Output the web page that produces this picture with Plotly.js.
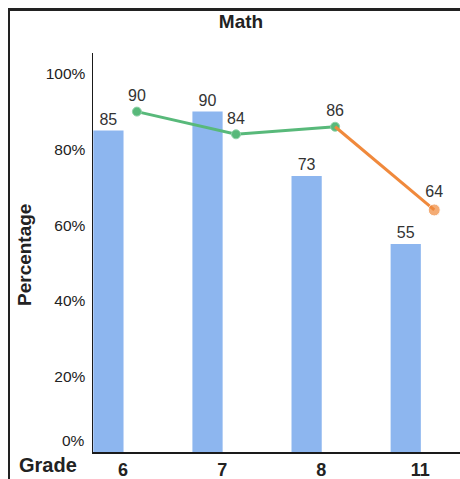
<!DOCTYPE html>
<html>
<head>
<meta charset="utf-8">
<script src="https://cdn.plot.ly/plotly-3.0.1.min.js"></script>
<style>
  html, body { margin: 0; padding: 0; background: #fff; }
  #wrap { position: relative; width: 460px; height: 479px; overflow: hidden; }
  #chart { position: absolute; left: 0; top: 0; width: 460px; height: 479px; }
  #frame { position: absolute; left: 8px; top: 8px; width: 470px; height: 468px;
           border-left: 2px solid #222; border-top: 3px solid #222; border-bottom: 1px solid #999;
           pointer-events: none; }
</style>
</head>
<body>
<div id="wrap">
  <div id="chart"></div>
  <div id="frame"></div>
</div>
<script>
// Data
const grades = ['6', '7', '8', '11'];
const barValues = [85, 90, 73, 55];
const lineValues = [90, 84, 86, 64];
const greenIdx = [0, 1, 2];
const orangeIdx = [2, 3];
const yTicks = [20, 40, 60, 80, 100];
const zeroTick = 0;

const FONT = 'Arial, Liberation Sans, sans-serif';
const idx = grades.map((g, i) => i);
const lineShift = 0.14;

const barTrace = {
  type: 'bar',
  x: idx,
  y: barValues,
  offset: -0.3,
  width: 0.305,
  marker: { color: '#8db6ef' },
  text: barValues.map(String),
  textposition: 'outside',
  textfont: { family: FONT, size: 16, color: '#333' },
  cliponaxis: false,
  hoverinfo: 'skip',
  showlegend: false
};

const greenTrace = {
  type: 'scatter',
  mode: 'lines+markers+text',
  x: greenIdx.map(i => i + lineShift),
  y: greenIdx.map(i => lineValues[i]),
  line: { color: '#58b97a', width: 3 },
  marker: { color: '#58b97a', size: 9, symbol: 'circle', line: { color: '#8fd3a8', width: 1 } },
  text: greenIdx.map(i => String(lineValues[i])),
  textposition: 'top center',
  textfont: { family: FONT, size: 16, color: '#333' },
  cliponaxis: false,
  showlegend: false
};

const orangeTrace = {
  type: 'scatter',
  mode: 'lines+markers+text',
  x: orangeIdx.map(i => i + lineShift),
  y: orangeIdx.map(i => lineValues[i]),
  line: { color: '#f0893c', width: 3 },
  marker: { color: '#f0893c', size: [0, 12], symbol: 'circle' },
  text: ['', String(lineValues[3])],
  textposition: 'top center',
  textfont: { family: FONT, size: 16, color: '#333' },
  cliponaxis: false,
  showlegend: false
};

const layout = {
  width: 460,
  height: 479,
  margin: { l: 93, r: 0, t: 53, b: 27 },
  paper_bgcolor: 'rgba(0,0,0,0)',
  plot_bgcolor: 'rgba(0,0,0,0)',
  title: {
    text: '<b>Math</b>',
    x: 241 / 460, xref: 'container', xanchor: 'center',
    y: 1 - 21 / 479, yref: 'container', yanchor: 'middle',
    font: { family: FONT, size: 19, color: '#222' }
  },
  xaxis: {
    range: [-0.303, 3.4],
    tickvals: idx,
    ticktext: grades.map(g => '<b>' + g + '</b>'),
    showgrid: false,
    zeroline: false,
    showline: true,
    linecolor: '#1a1a1a',
    linewidth: 2,
    ticks: '',
    tickfont: { family: FONT, size: 18, color: '#222' },
    fixedrange: true
  },
  yaxis: {
    range: [0, 105.5],
    tickvals: yTicks,
    ticktext: yTicks.map(v => v + '%'),
    showgrid: false,
    zeroline: false,
    showline: true,
    linecolor: '#1a1a1a',
    linewidth: 1.5,
    ticks: 'outside',
    ticklen: 3,
    tickcolor: 'rgba(0,0,0,0)',
    tickfont: { family: FONT, size: 15.5, color: '#222' },
    fixedrange: true
  },
  annotations: [
    {
      text: zeroTick + '%',
      xref: 'paper', yref: 'paper',
      x: (87 - 93) / 367, y: (452 - 440) / 399,
      xanchor: 'right', yanchor: 'middle',
      showarrow: false,
      font: { family: FONT, size: 15.5, color: '#222' }
    },
    {
      text: '<b>Percentage</b>',
      xref: 'paper', yref: 'paper',
      x: (24 - 93) / 367, y: (452 - 255) / 399,
      xanchor: 'center', yanchor: 'middle',
      textangle: -90, showarrow: false,
      font: { family: FONT, size: 19, color: '#222' }
    },
    {
      text: '<b>Grade</b>',
      xref: 'paper', yref: 'paper',
      x: (48 - 93) / 367, y: -(465 - 452) / 399,
      xanchor: 'center', yanchor: 'middle',
      showarrow: false,
      font: { family: FONT, size: 20, color: '#222' }
    }
  ]
};

Plotly.newPlot('chart', [barTrace, greenTrace, orangeTrace], layout, { staticPlot: true });
</script>
</body>
</html>
